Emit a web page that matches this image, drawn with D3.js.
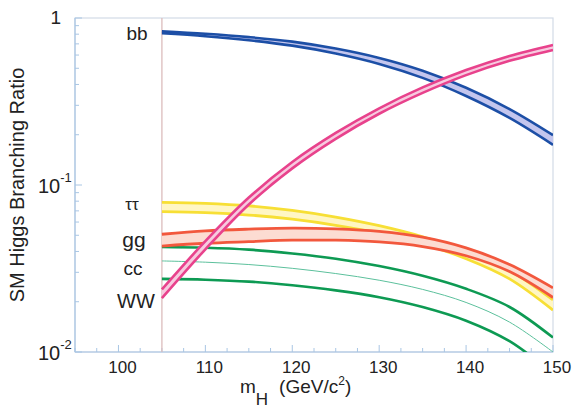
<!DOCTYPE html>
<html>
<head>
<meta charset="utf-8">
<script src="https://cdn.jsdelivr.net/npm/d3@7"></script>
<style>
  html, body { margin: 0; padding: 0; background: #fff; }
  svg { display: block; font-family: "Liberation Sans", Arial, Helvetica, sans-serif; }
</style>
</head>
<body>
<svg id="chart" width="574" height="408"></svg>
<script>
// Higgs mass grid (GeV/c^2)
const masses = [105, 110, 115, 120, 125, 130, 135, 140, 145, 150];

// Branching-ratio bands: upper and lower edge of each channel
const bbHi = [0.832, 0.804, 0.768, 0.722, 0.656, 0.576, 0.483, 0.382, 0.285, 0.199];
const bbLo = [0.810, 0.778, 0.736, 0.683, 0.613, 0.531, 0.438, 0.341, 0.252, 0.174];

const wwHi = [0.0237, 0.0461, 0.0841, 0.1374, 0.205, 0.288, 0.384, 0.488, 0.593, 0.690];
const wwLo = [0.0210, 0.0412, 0.0765, 0.1258, 0.189, 0.267, 0.356, 0.455, 0.554, 0.644];

const tautauHi = [0.0788, 0.0777, 0.0751, 0.0705, 0.0643, 0.0571, 0.0490, 0.0402, 0.0309, 0.0205];
const tautauLo = [0.0692, 0.0683, 0.0661, 0.0624, 0.0574, 0.0514, 0.0444, 0.0362, 0.0274, 0.0178];

const ggHi = [0.0507, 0.0531, 0.0544, 0.0552, 0.0546, 0.0527, 0.0487, 0.0420, 0.0334, 0.0242];
const ggLo = [0.0431, 0.0448, 0.0458, 0.0467, 0.0467, 0.0456, 0.0428, 0.0377, 0.0303, 0.0212];

const ccHi  = [0.0425, 0.0421, 0.0410, 0.0389, 0.0362, 0.0327, 0.0286, 0.0239, 0.0186, 0.0122];
const ccMid = [0.0351, 0.0345, 0.0334, 0.0317, 0.0295, 0.0269, 0.0237, 0.0198, 0.0151, 0.0100];
const ccLo  = [0.0274, 0.0271, 0.0264, 0.0251, 0.0234, 0.0213, 0.0186, 0.0154, 0.0116, 0.0074];

// Axis ticks
const xTickLabels = [100, 110, 120, 130, 140, 150];
const yTickLabels = [1, 0.1, 0.01];

// LEP exclusion limit (vertical marker)
const lepLimit = 105;

const svg = d3.select("#chart");
const plotL = 75, plotR = 553, plotT = 18, plotB = 352;

const x = d3.scaleLinear().domain([95, 150]).range([plotL, plotR]);
const y = d3.scaleLog().domain([0.01, 1]).range([plotB, plotT]);

const defs = svg.append("defs");
defs.append("clipPath").attr("id", "plotClip")
  .append("rect").attr("x", plotL).attr("y", plotT)
  .attr("width", plotR - plotL).attr("height", plotB - plotT);
defs.append("filter").attr("id", "soft")
  .attr("x", "-5%").attr("y", "-5%").attr("width", "110%").attr("height", "110%")
  .append("feGaussianBlur").attr("stdDeviation", 0.35);

// Frame
svg.append("rect")
  .attr("x", plotL).attr("y", plotT)
  .attr("width", plotR - plotL).attr("height", plotB - plotT)
  .attr("fill", "none").attr("stroke", "#d3dbe6").attr("stroke-width", 1.2);

// Left and bottom axis lines in light blue
svg.append("line")
  .attr("x1", plotL).attr("x2", plotL).attr("y1", plotT).attr("y2", plotB)
  .attr("stroke", "#a9c6e4").attr("stroke-width", 1.2);
svg.append("line")
  .attr("x1", plotL).attr("x2", plotR).attr("y1", plotB).attr("y2", plotB)
  .attr("stroke", "#a9c6e4").attr("stroke-width", 1.2);

// Y ticks (log, inside)
const yMinor = [];
[0.01, 0.1].forEach(d => { for (let k = 2; k <= 9; k++) yMinor.push(d * k); });
svg.append("g").selectAll("line").data(yMinor).join("line")
  .attr("x1", plotL).attr("x2", plotL + 4)
  .attr("y1", d => y(d)).attr("y2", d => y(d))
  .attr("stroke", "#a9c6e4").attr("stroke-width", 1);
svg.append("g").selectAll("line").data(yTickLabels).join("line")
  .attr("x1", plotL).attr("x2", plotL + 7)
  .attr("y1", d => y(d)).attr("y2", d => y(d))
  .attr("stroke", "#a9c6e4").attr("stroke-width", 1);

// X ticks (inside)
const xMinor = d3.range(95, 150.01, 2.5);
svg.append("g").selectAll("line").data(xMinor).join("line")
  .attr("x1", d => x(d)).attr("x2", d => x(d))
  .attr("y1", plotB).attr("y2", d => plotB - (d % 10 === 0 ? 7 : 4))
  .attr("stroke", "#a9c6e4").attr("stroke-width", 1);

// X tick labels
svg.append("g").selectAll("text").data(xTickLabels).join("text")
  .attr("x", d => x(d) + 4).attr("y", 373)
  .attr("text-anchor", "middle").attr("font-size", 17).attr("fill", "#222")
  .text(d => d);

// Y tick labels
const yl = svg.append("g").attr("fill", "#222");
yl.append("text").attr("x", 61).attr("y", y(1) + 6).attr("text-anchor", "end")
  .attr("font-size", 19).text("1");
yTickLabels.filter(d => d < 1).forEach(d => {
  const t = yl.append("text").attr("x", 38).attr("y", y(d) + 8).attr("font-size", 20);
  t.append("tspan").text("10");
  t.append("tspan").attr("font-size", 13).attr("dy", -11)
    .text("-" + Math.round(-Math.log10(d)));
});

// Axis titles
svg.append("text")
  .attr("transform", `translate(24,${(plotT + plotB) / 2}) rotate(-90)`)
  .attr("text-anchor", "middle").attr("font-size", 20).attr("fill", "#222")
  .text("SM Higgs Branching Ratio");

const xt = svg.append("text").attr("y", 393).attr("x", 240).attr("font-size", 19).attr("fill", "#222");
xt.append("tspan").text("m");
xt.append("tspan").attr("font-size", 17).attr("dy", 12).text("H");
xt.append("tspan").attr("dy", -12).attr("dx", 11).text("(GeV/c");
xt.append("tspan").attr("font-size", 12).attr("dy", -8).text("2");
xt.append("tspan").attr("dy", 8).text(")");

// Vertical marker at the LEP limit
svg.append("line")
  .attr("x1", x(lepLimit)).attr("x2", x(lepLimit))
  .attr("y1", plotT).attr("y2", plotB)
  .attr("stroke", "#dcbcbc").attr("stroke-width", 1.3);

// Bands
const plot = svg.append("g").attr("clip-path", "url(#plotClip)")
  .append("g").attr("filter", "url(#soft)");

const curve = d3.curveCatmullRom.alpha(0.5);
const lineGen = d3.line().x(d => x(d[0])).y(d => y(d[1])).curve(curve);
const areaGen = d3.area().x(d => x(d[0])).y0(d => y(d[1])).y1(d => y(d[2])).curve(curve);

function band(hi, lo, fill, stroke, width) {
  const pts = masses.map((m, i) => [m, lo[i], hi[i]]);
  plot.append("path").datum(pts).attr("d", areaGen).attr("fill", fill);
  [hi, lo].forEach(arr => {
    plot.append("path").datum(masses.map((m, i) => [m, arr[i]]))
      .attr("d", lineGen).attr("fill", "none")
      .attr("stroke", stroke).attr("stroke-width", width);
  });
}

// cc: two thick edges with a thin central line
[ccHi, ccLo].forEach(arr => {
  plot.append("path").datum(masses.map((m, i) => [m, arr[i]]))
    .attr("d", lineGen).attr("fill", "none")
    .attr("stroke", "#0c9a52").attr("stroke-width", 2.6);
});
plot.append("path").datum(masses.map((m, i) => [m, ccMid[i]]))
  .attr("d", lineGen).attr("fill", "none")
  .attr("stroke", "#5cc09c").attr("stroke-width", 1);

band(tautauHi, tautauLo, "#fff6c4", "#f7df35", 2.8);
band(ggHi, ggLo, "#fcdcd2", "#f2583e", 2.8);
band(bbHi, bbLo, "#c4c6ee", "#1f4fa6", 2.6);
band(wwHi, wwLo, "#f7cadf", "#e8428c", 2.6);

// Channel labels
const labels = svg.append("g").attr("fill", "#222").attr("text-anchor", "middle");
labels.append("text").attr("x", 137).attr("y", 40).attr("font-size", 19).text("bb");
labels.append("text").attr("x", 132).attr("y", 210).attr("font-size", 17).text("ττ");
labels.append("text").attr("x", 134).attr("y", 247).attr("font-size", 21).text("gg");
labels.append("text").attr("x", 133).attr("y", 275).attr("font-size", 19).text("cc");
labels.append("text").attr("x", 136).attr("y", 308).attr("font-size", 20).text("WW");
</script>
</body>
</html>
